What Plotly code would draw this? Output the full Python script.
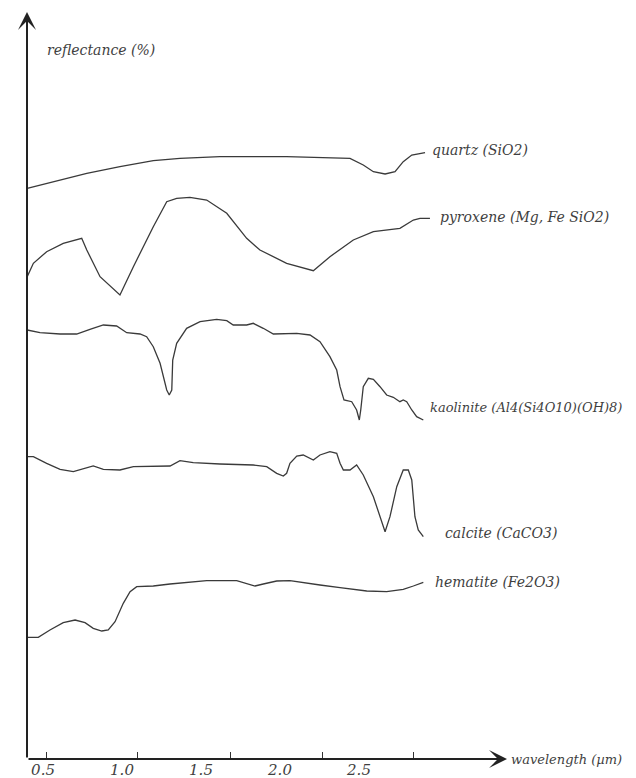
import plotly.graph_objects as go

# ---------------- data (wavelength in µm, reflectance in %, curves vertically offset) -------------
quartz_x = [0.40, 0.565, 0.777, 0.987, 1.198, 1.367, 1.620, 2.042, 2.443, 2.527, 2.591, 2.665, 2.728, 2.780, 2.834, 2.918]
quartz_y = [57.07, 57.73, 58.57, 59.23, 59.83, 60.07, 60.23, 60.23, 60.07, 59.4, 58.73, 58.5, 58.73, 59.73, 60.4, 60.63]

pyroxene_x = [0.40, 0.439, 0.523, 0.628, 0.745, 0.777, 0.861, 0.987, 1.072, 1.198, 1.283, 1.346, 1.430,
              1.536, 1.663, 1.789, 1.873, 2.042, 2.211, 2.316, 2.464, 2.591, 2.759, 2.844, 2.886, 2.949]
pyroxene_y = [48.23, 49.57, 50.73, 51.57, 52.07, 50.9, 48.23, 46.4, 49.23, 53.23, 55.73, 56.07, 56.17,
              55.9, 54.57, 52.07, 50.9, 49.57, 48.83, 50.23, 51.9, 52.73, 53.07, 53.9, 54.07, 54.07]

kaolinite_x = [0.40, 0.481, 0.608, 0.713, 0.797, 0.882, 0.966, 1.030, 1.114, 1.156, 1.198, 1.241, 1.283,
               1.299, 1.315, 1.321, 1.346, 1.409, 1.494, 1.599, 1.663, 1.704, 1.789, 1.831, 1.894, 1.958,
               2.106, 2.190, 2.253, 2.316, 2.359, 2.380, 2.405, 2.454, 2.485, 2.502, 2.511, 2.527, 2.559,
               2.591, 2.633, 2.675, 2.717, 2.759, 2.780, 2.802, 2.834, 2.865, 2.907]
kaolinite_y = [42.9, 42.63, 42.5, 42.5, 42.97, 43.4, 43.3, 42.63, 42.5, 42.23, 41.23, 39.57, 36.9,
               36.4, 36.9, 39.9, 41.57, 43.07, 43.73, 43.97, 43.83, 43.4, 43.4, 43.57, 43.07, 42.5,
               42.57, 42.4, 41.73, 40.23, 38.9, 37.23, 35.9, 35.73, 34.9, 33.9, 34.9, 37.23, 38.07,
               37.97, 37.23, 36.4, 36.17, 35.73, 35.9, 35.73, 34.9, 34.23, 33.9]

calcite_x = [0.40, 0.439, 0.523, 0.608, 0.692, 0.777, 0.818, 0.882, 0.987, 1.072, 1.304, 1.367, 1.451,
             1.620, 1.831, 1.916, 1.979, 2.021, 2.042, 2.063, 2.106, 2.147, 2.211, 2.253, 2.316, 2.359,
             2.380, 2.401, 2.443, 2.485, 2.527, 2.591, 2.633, 2.665, 2.696, 2.739, 2.780, 2.812, 2.834,
             2.854, 2.875, 2.907]
calcite_y = [30.23, 30.23, 29.57, 28.97, 28.73, 29.07, 29.3, 28.97, 28.9, 29.23, 29.3, 29.83, 29.63,
             29.5, 29.4, 29.23, 28.57, 28.3, 28.57, 29.57, 30.3, 30.4, 29.9, 30.4, 30.73, 30.57,
             29.57, 28.9, 28.9, 29.4, 28.4, 26.23, 24.23, 22.73, 24.23, 27.23, 28.9, 28.9, 27.9,
             24.23, 22.9, 22.23]

hematite_x = [0.40, 0.470, 0.544, 0.628, 0.703, 0.766, 0.818, 0.872, 0.913, 0.956, 1.008, 1.051, 1.093,
              1.198, 1.304, 1.409, 1.536, 1.726, 1.789, 1.842, 1.894, 1.979, 2.063, 2.147, 2.253, 2.380,
              2.549, 2.675, 2.780, 2.844, 2.907]
hematite_y = [12.17, 12.17, 12.9, 13.63, 13.9, 13.63, 13.07, 12.8, 12.9, 13.73, 15.57, 16.73, 17.23,
              17.3, 17.5, 17.63, 17.83, 17.83, 17.5, 17.3, 17.5, 17.8, 17.83, 17.67, 17.4, 17.13,
              16.8, 16.73, 16.97, 17.3, 17.67]

series_names = ["quartz (SiO2)", "pyroxene (Mg, Fe SiO2)", "kaolinite (Al4(Si4O10)(OH)8)",
                "calcite (CaCO3)", "hematite (Fe2O3)"]

tick_labels_vals = [0.5, 1.0, 1.5, 2.0, 2.5]
tick_labels_text = ["0.5", "1.0", "1.5", "2.0", "2.5"]
tick_marks = [0.525, 1.095, 1.684, 2.266, 2.848]

x_title = "wavelength (µm)"
y_title = "reflectance (%)"

# ---------------- figure ----------------
X_MIN, X_MAX = 0.3987, 3.4367
Y_MIN, Y_MAX = 0.0, 74.7
LINE = "#3a3a3a"
TXT = "#3f3f3f"
FONT = "DejaVu Serif"

fig = go.Figure()
all_x = [quartz_x, pyroxene_x, kaolinite_x, calcite_x, hematite_x]
all_y = [quartz_y, pyroxene_y, kaolinite_y, calcite_y, hematite_y]
label_shift = [(5, 3), (8, 1), (5, 13), (20, 4), (10, 0)]
label_size = [14, 14, 13, 14, 14]

for xs, ys, name, (dx, dy), fs in zip(all_x, all_y, series_names, label_shift, label_size):
    fig.add_trace(go.Scatter(x=xs, y=ys, mode="lines", name=name,
                             line=dict(color=LINE, width=1.3), hoverinfo="skip"))
    fig.add_annotation(x=xs[-1], y=ys[-1], text=name, showarrow=False,
                       xanchor="left", yanchor="middle", xshift=dx, yshift=dy,
                       font=dict(family=FONT, size=fs, color=TXT, style="italic"))

# dummy trace for the tick-mark axis
fig.add_trace(go.Scatter(x=[X_MIN], y=[Y_MIN], xaxis="x2", mode="markers",
                         marker=dict(opacity=0), hoverinfo="skip", showlegend=False))

# axes with arrows
fig.add_annotation(x=X_MAX, y=Y_MIN, ax=X_MIN, ay=Y_MIN, axref="x", ayref="y", xref="x", yref="y",
                   text="", showarrow=True, arrowhead=3, arrowwidth=2, arrowsize=1.5, arrowcolor="#222")
fig.add_annotation(x=X_MIN, y=Y_MAX, ax=X_MIN, ay=Y_MIN, axref="x", ayref="y", xref="x", yref="y",
                   text="", showarrow=True, arrowhead=3, arrowwidth=2, arrowsize=1.5, arrowcolor="#222")

fig.add_annotation(x=X_MAX, y=Y_MIN, xref="x", yref="y", text=x_title, showarrow=False,
                   xanchor="left", yanchor="middle", xshift=2,
                   font=dict(family=FONT, size=13, color=TXT, style="italic"))
fig.add_annotation(x=X_MIN, y=Y_MAX, xref="x", yref="y", text=y_title, showarrow=False,
                   xanchor="left", yanchor="middle", xshift=18, yshift=-38,
                   font=dict(family=FONT, size=14, color=TXT, style="italic"))

# the page body has an 8px default margin; margins are set so the plot area lands where it should
fig.update_layout(
    width=636, height=778,
    margin=dict(l=19, r=137, t=4, b=27),
    paper_bgcolor="white", plot_bgcolor="white",
    showlegend=False,
    xaxis=dict(range=[X_MIN, X_MAX], showgrid=False, zeroline=False, showline=False,
               tickvals=tick_labels_vals, ticktext=tick_labels_text, ticks="",
               tickfont=dict(family=FONT, size=15, color=TXT, style="italic"),
               automargin=False),
    xaxis2=dict(range=[X_MIN, X_MAX], overlaying="x", anchor="y", side="bottom",
                showgrid=False, zeroline=False, showline=False,
                tickvals=tick_marks, ticks="inside", ticklen=7, tickwidth=1, tickcolor="#333",
                showticklabels=False, automargin=False),
    yaxis=dict(range=[Y_MIN, Y_MAX], showgrid=False, zeroline=False, showline=False,
               showticklabels=False, ticks="", automargin=False),
)

fig.write_html("out.html")
